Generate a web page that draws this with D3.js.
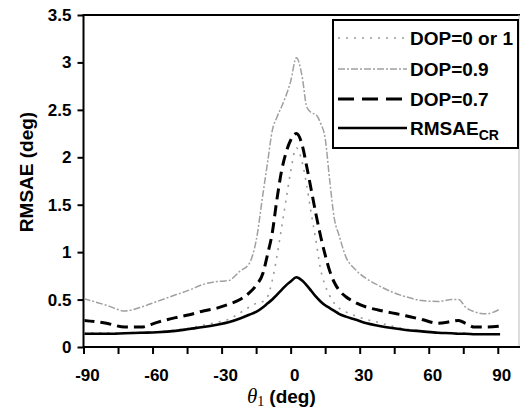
<!DOCTYPE html>
<html>
<head>
<meta charset="utf-8">
<script src="https://cdn.jsdelivr.net/npm/d3@7"></script>
<style>
  html, body { margin: 0; padding: 0; background: #fff; }
  svg { display: block; }
</style>
</head>
<body>
<div id="chart"></div>
<script>
// Data
const thetaDeg = [-90, -80, -72, -65, -58, -50, -44, -38, -32, -27, -22, -18, -15, -12, -10, -8, -6, -4, -2, 0,
  2.5, 5, 7, 9, 11, 13, 15, 17, 19, 21, 24, 28, 33, 38, 44, 50, 57, 64, 70, 73, 76, 80, 85, 91];

const dop0or1 = [0.15, 0.15, 0.15, 0.155, 0.16, 0.18, 0.2, 0.23, 0.26, 0.29, 0.36, 0.42, 0.46, 0.48, 0.53, 0.7, 0.95, 1.25, 1.55, 1.85,
  2.1, 1.95, 1.7, 1.4, 1.12, 0.82, 0.65, 0.54, 0.46, 0.41, 0.37, 0.33, 0.29, 0.26, 0.22, 0.19, 0.17, 0.155, 0.15, 0.15, 0.145, 0.14, 0.14, 0.14];

const dop09 = [0.51, 0.44, 0.38, 0.42, 0.48, 0.55, 0.6, 0.66, 0.69, 0.7, 0.8, 0.88, 1.12, 1.62, 1.95, 2.28, 2.42, 2.53, 2.65, 2.8,
  3.05, 2.85, 2.53, 2.47, 2.45, 2.36, 2.2, 1.75, 1.35, 1.18, 0.95, 0.82, 0.72, 0.65, 0.58, 0.53, 0.49, 0.48, 0.5, 0.5, 0.42, 0.37, 0.35, 0.4];

const dop07 = [0.28, 0.25, 0.21, 0.21, 0.26, 0.31, 0.34, 0.38, 0.41, 0.45, 0.5, 0.57, 0.65, 0.78, 0.98, 1.2, 1.55, 1.85, 2.05, 2.18,
  2.25, 2.13, 1.9, 1.65, 1.4, 1.17, 0.97, 0.8, 0.68, 0.6, 0.53, 0.47, 0.42, 0.39, 0.36, 0.33, 0.29, 0.25, 0.27, 0.28, 0.25, 0.21, 0.21, 0.22];

const rmsaeCR = [0.14, 0.14, 0.145, 0.15, 0.155, 0.17, 0.19, 0.21, 0.235, 0.26, 0.3, 0.34, 0.37, 0.42, 0.46, 0.5, 0.55, 0.6, 0.65, 0.69,
  0.735, 0.7, 0.65, 0.59, 0.53, 0.48, 0.44, 0.41, 0.38, 0.35, 0.32, 0.29, 0.25, 0.225, 0.2, 0.18, 0.165, 0.15, 0.145, 0.14, 0.14, 0.135, 0.135, 0.135];

const xTicks = [-90, -75, -60, -45, -30, -15, 0, 15, 30, 45, 60, 75, 90];
const xLabels = [-90, -60, -30, 0, 30, 60, 90];
const yTicks = [0, 0.5, 1, 1.5, 2, 2.5, 3, 3.5];

const seriesNames = ["DOP=0 or 1", "DOP=0.9", "DOP=0.7", "RMSAE"];
const seriesValues = [dop0or1, dop09, dop07, rmsaeCR];

// line styles, one per series
const styles = [
  { stroke: "#9a9a9a", width: 1.6, dash: "2,6" },
  { stroke: "#a0a0a0", width: 1.5, dash: "7,2,2,2" },
  { stroke: "#000", width: 3, dash: "11,6" },
  { stroke: "#000", width: 2.6, dash: null },
];

const width = 520;
const height = 411;
const plot = { left: 83.5, right: 518.5, top: 15, bottom: 347 };

const svg = d3.select("#chart")
  .append("svg")
  .attr("width", width)
  .attr("height", height);

const x = d3.scaleLinear().domain([-90, 99]).range([plot.left, plot.right]);
const y = d3.scaleLinear().domain([0, 3.5]).range([plot.bottom, plot.top]);

const tickFont = "'Liberation Sans', Arial, sans-serif";

// frame: top line and faint right edge
svg.append("line")
  .attr("x1", plot.left).attr("x2", width)
  .attr("y1", plot.top).attr("y2", plot.top)
  .attr("stroke", "#000").attr("stroke-width", 2);

svg.append("line")
  .attr("x1", plot.right + 0.5).attr("x2", plot.right + 0.5)
  .attr("y1", plot.top).attr("y2", plot.bottom)
  .attr("stroke", "#bbb").attr("stroke-width", 1);

// x axis
const xAxis = d3.axisBottom(x)
  .tickValues(xTicks)
  .tickSize(7)
  .tickFormat("");

const gx = svg.append("g")
  .attr("transform", `translate(0,${plot.bottom})`)
  .call(xAxis);
gx.select(".domain").attr("stroke", "#000").attr("stroke-width", 2)
  .attr("d", `M${plot.left},0H${width}`);
gx.selectAll(".tick line").attr("stroke", "#000").attr("stroke-width", 2);

svg.append("g")
  .selectAll("text")
  .data(xLabels)
  .join("text")
  .attr("x", (d) => x(d) + 4)
  .attr("y", 381)
  .attr("text-anchor", "middle")
  .style("font-family", tickFont)
  .style("font-weight", "bold")
  .style("font-size", "17px")
  .text((d) => d);

// y axis
const yAxis = d3.axisLeft(y)
  .tickValues(yTicks)
  .tickSize(6)
  .tickPadding(6)
  .tickFormat((d) => d);

const gy = svg.append("g")
  .attr("transform", `translate(${plot.left},0)`)
  .call(yAxis);
gy.select(".domain").attr("stroke", "#000").attr("stroke-width", 2)
  .attr("d", `M0,${plot.bottom + 1}V${plot.top - 1}`);
gy.selectAll(".tick line").attr("stroke", "#000").attr("stroke-width", 2);
gy.selectAll(".tick text")
  .style("font-family", tickFont)
  .style("font-weight", "bold")
  .style("font-size", "17px")
  .attr("fill", "#000");

// axis titles
svg.append("text")
  .attr("transform", "translate(33,172) rotate(-90)")
  .attr("text-anchor", "middle")
  .style("font-family", tickFont)
  .style("font-weight", "bold")
  .style("font-size", "19px")
  .text("RMSAE (deg)");

const xTitle = svg.append("text")
  .attr("x", 247)
  .attr("y", 403);
xTitle.append("tspan")
  .style("font-family", "'Liberation Serif', 'DejaVu Serif', serif")
  .style("font-style", "italic")
  .style("font-size", "21px")
  .text("θ");
xTitle.append("tspan")
  .attr("dy", 3)
  .style("font-family", "'Liberation Serif', 'DejaVu Serif', serif")
  .style("font-size", "14px")
  .text("1");
xTitle.append("tspan")
  .attr("dy", -3)
  .attr("dx", 5)
  .style("font-family", tickFont)
  .style("font-weight", "bold")
  .style("font-size", "19px")
  .text("(deg)");

// clip lines to plot area
svg.append("defs").append("clipPath")
  .attr("id", "plot-clip")
  .append("rect")
  .attr("x", plot.left + 1)
  .attr("y", plot.top + 1)
  .attr("width", plot.right - plot.left)
  .attr("height", plot.bottom - plot.top - 2);

const line = d3.line()
  .x((d) => x(d[0]))
  .y((d) => y(d[1]))
  .curve(d3.curveMonotoneX);

const lines = svg.append("g").attr("clip-path", "url(#plot-clip)");

seriesValues.forEach((vals, i) => {
  const pts = thetaDeg.map((t, j) => [t, vals[j]]);
  lines.append("path")
    .datum(pts)
    .attr("fill", "none")
    .attr("stroke", styles[i].stroke)
    .attr("stroke-width", styles[i].width)
    .attr("stroke-dasharray", styles[i].dash)
    .attr("stroke-linejoin", "round")
    .attr("d", line);
});

// legend
const legend = svg.append("g");
legend.append("rect")
  .attr("x", 333)
  .attr("y", 20)
  .attr("width", 185)
  .attr("height", 128)
  .attr("fill", "#fff")
  .attr("stroke", "#000")
  .attr("stroke-width", 2);

const rowY = [38, 69, 99, 128];

seriesNames.forEach((name, i) => {
  legend.append("line")
    .attr("x1", 338).attr("x2", 407)
    .attr("y1", rowY[i]).attr("y2", rowY[i])
    .attr("stroke", styles[i].stroke)
    .attr("stroke-width", styles[i].width)
    .attr("stroke-dasharray", i === 2 ? "16,8" : styles[i].dash);

  const t = legend.append("text")
    .attr("x", 410)
    .attr("y", rowY[i] + 7)
    .style("font-family", tickFont)
    .style("font-weight", "bold")
    .style("font-size", "19px")
    .text(name);
  if (i === 3) {
    t.append("tspan")
      .attr("dy", 5)
      .style("font-size", "14px")
      .text("CR");
  }
});
</script>
</body>
</html>
